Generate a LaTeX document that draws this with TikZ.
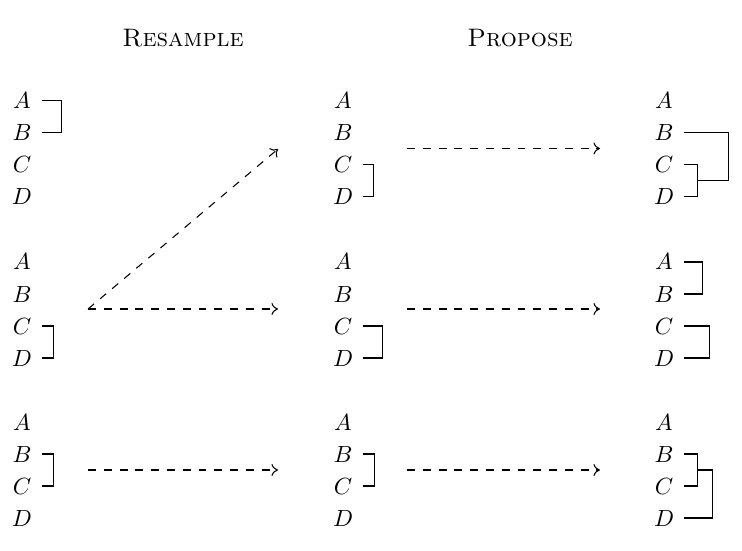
\documentclass[tikz,border=0pt]{standalone}
\usetikzlibrary{calc,arrows.meta}
\begin{document}
\begin{tikzpicture}[x=0.4275pt,y=-0.4275pt,
  leaf/.style={inner sep=0pt,minimum width=17.1pt,minimum height=6pt,anchor=center,font=\fontsize{10.3}{12}\selectfont},
  title/.style={inner sep=0pt,anchor=center,font=\fontsize{10.8}{13}\selectfont},
  link/.style={line width=0.45pt},
  move/.style={-{To[length=2.8pt,width=5.2pt]},line width=0.45pt,dash pattern=on 3.4pt off 3.35pt}]
\useasboundingbox (0,0) rectangle (742,550);
% titles
\node[title] (tres) at (183,38) {\textsc{Resample}};
\node[title] (tpro) at (520,38) {\textsc{Propose}};
% leaves
\foreach \g/\y in {1/100.5,2/262,3/422}{
  \foreach \c/\x in {l/22,m/343,r/664}{
    \node[leaf] (\c\g a) at (\x,\y) {$A$};
    \node[leaf] (\c\g b) at (\x,\y+32) {$B$};
    \node[leaf] (\c\g c) at (\x,\y+64) {$C$};
    \node[leaf] (\c\g d) at (\x,\y+96) {$D$};
  }
}
% group 1 brackets
\draw[link] (l1a.east) -- ++(19,0) |- (l1b.east);
\draw[link] (m1c.east) -- ++(10,0) |- (m1d.east);
\draw[link] (r1c.east) -- ++(13,0) |- (r1d.east);
\coordinate (r1cd) at ($(r1c.east)!0.5!(r1d.east)+(13,0)$);
\draw[link] (r1b.east) -| ($(r1cd)+(31,0)$) -- (r1cd);
% group 2 brackets
\draw[link] (l2c.east) -- ++(11,0) |- (l2d.east);
\draw[link] (m2c.east) -- ++(19,0) |- (m2d.east);
\draw[link] (r2a.east) -- ++(18,0) |- (r2b.east);
\draw[link] (r2c.east) -- ++(25,0) |- (r2d.east);
% group 3 brackets
\draw[link] (l3b.east) -- ++(11,0) |- (l3c.east);
\draw[link] (m3b.east) -- ++(11,0) |- (m3c.east);
\draw[link] (r3b.east) -- ++(13,0) |- (r3c.east);
\coordinate (r3bc) at ($(r3b.east)!0.5!(r3c.east)+(13,0)$);
\draw[link] (r3d.east) -| ($(r3bc)+(15,0)$) -- (r3bc);
% arrows
\coordinate (s1m) at (407,148.5);
\coordinate (e1r) at (600,148.5);
\coordinate (s2l) at (88,309);
\coordinate (e2m) at (278,309);
\coordinate (e1m) at (278,149);
\coordinate (s2m) at (407,309);
\coordinate (e2r) at (600,309);
\coordinate (s3l) at (88,470);
\coordinate (e3m) at (278,470);
\coordinate (s3m) at (407,470);
\coordinate (e3r) at (600,470);
\draw[move] (s1m) -- (e1r);
\draw[move] (s2l) -- (e2m);
\draw[move] (s2l) -- (e1m);
\draw[move] (s2m) -- (e2r);
\draw[move] (s3l) -- (e3m);
\draw[move] (s3m) -- (e3r);
\end{tikzpicture}
\end{document}
